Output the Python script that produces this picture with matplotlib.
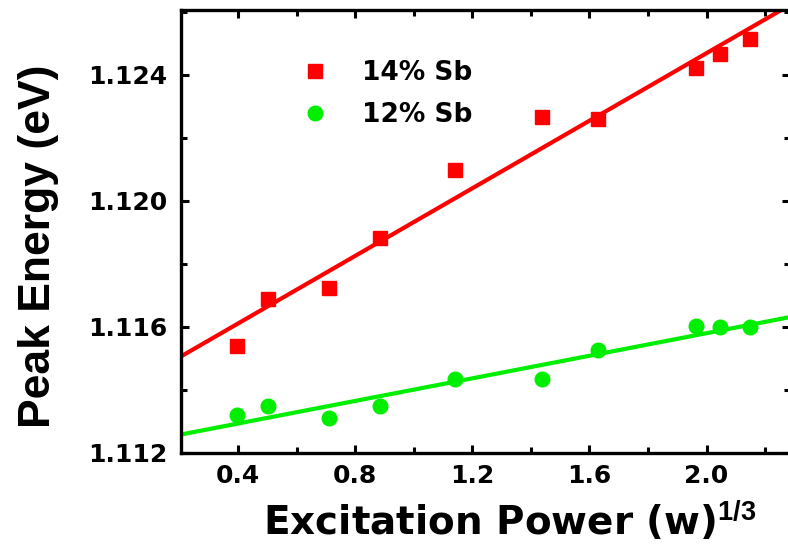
import matplotlib
matplotlib.use('Agg')
import matplotlib.pyplot as plt
from matplotlib.ticker import MultipleLocator
import numpy as np

plt.rcParams['font.family'] = ['DejaVu Sans']
plt.rcParams['font.weight'] = 'bold'
plt.rcParams['mathtext.fontset'] = 'custom'
plt.rcParams['mathtext.rm'] = 'Liberation Sans'
plt.rcParams['mathtext.bf'] = 'Liberation Sans:bold'

# excitation power^(1/3) and peak energy (eV)
x_14 = [0.395, 0.503, 0.711, 0.884, 1.141, 1.437, 1.630, 1.963, 2.045, 2.148]
y_14 = [1.11538, 1.11687, 1.11724, 1.11883, 1.12099, 1.12265, 1.12259, 1.12423, 1.12466, 1.12513]
x_12 = [0.395, 0.503, 0.711, 0.884, 1.141, 1.437, 1.630, 1.963, 2.045, 2.148]
y_12 = [1.11319, 1.11348, 1.11309, 1.11347, 1.11435, 1.11433, 1.11525, 1.11601, 1.11599, 1.11599]

labels = ['14% Sb', '12% Sb']

fig = plt.figure(figsize=(7.88, 5.47), dpi=100)
ax = fig.add_axes([181/788, 94.3/547, 609/788, 442.7/547])

xlo, xhi = 0.205, 2.285
xx = np.array([xlo, xhi])

ax.plot(x_14, y_14, 's', color='#ff0000', ms=10, label=labels[0], zorder=3)
ax.plot(x_12, y_12, 'o', color='#00ee00', ms=10.5, label=labels[1], zorder=3)

# linear fits
p14 = np.polyfit(x_14, y_14, 1)
p12 = np.polyfit(x_12, y_12, 1)
ax.plot(xx, np.polyval(p14, xx), '-', color='#ff0000', lw=3, zorder=2)
ax.plot(xx, np.polyval(p12, xx), '-', color='#00ee00', lw=3, zorder=2)

ax.set_xlim(xlo, xhi)
ax.set_ylim(1.112, 1.12606)

ax.xaxis.set_minor_locator(MultipleLocator(0.2))
ax.yaxis.set_minor_locator(MultipleLocator(0.002))
ax.set_xticks([0.4, 0.8, 1.2, 1.6, 2.0])
ax.set_xticklabels(['0.4', '0.8', '1.2', '1.6', '2.0'])
ax.set_yticks([1.112, 1.116, 1.120, 1.124])
ax.set_yticklabels(['1.112', '1.116', '1.120', '1.124'])

ax.tick_params(which='both', direction='in', top=True, right=True, width=2.2)
ax.tick_params(which='major', length=6, labelsize=18)
ax.tick_params(axis='y', which='major', pad=10)
ax.tick_params(axis='x', which='major', pad=8)
ax.tick_params(which='minor', length=4)
for s in ax.spines.values():
    s.set_linewidth(2.4)

ax.set_xlabel(r'Excitation Power (w)$^{1/3}$', fontsize=28, fontweight='bold')
ax.xaxis.set_label_coords(0.54, -0.105)
ax.set_ylabel('Peak Energy (eV)', fontsize=32, fontweight='bold',
              family='Liberation Sans')
ax.yaxis.set_label_coords(-0.2, 0.466)

ax.legend(loc='upper left', bbox_to_anchor=(0.16, 0.91), frameon=False,
          fontsize=19, handletextpad=0.75, labelspacing=0.6, borderaxespad=0)

fig.savefig('out.png', dpi=100)
